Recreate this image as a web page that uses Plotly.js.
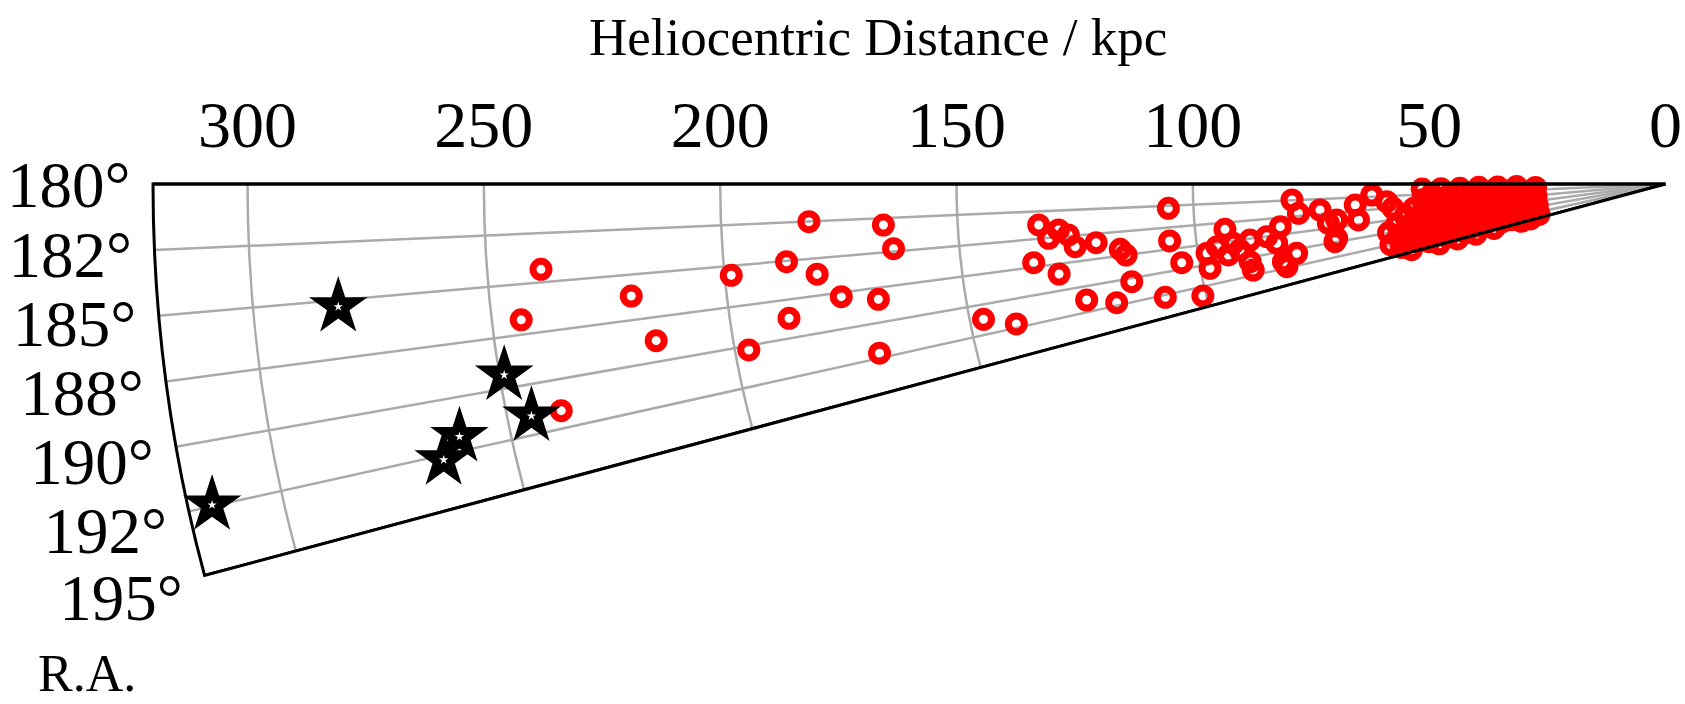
<!DOCTYPE html>
<html>
<head>
<meta charset="utf-8">
<script src="https://cdn.plot.ly/plotly-3.0.1.min.js"></script>
<style>html,body{margin:0;padding:0;background:#fff;}#chart{width:1685px;height:704px;}</style>
</head>
<body>
<div id="chart"></div>
<script>
// Heliocentric distance (kpc) and R.A. (deg) of the red-ring objects
const ringR = [238.6,243.8,220.1,216.1,238.5,198.6,197.1,186.7,181.4,180.5,187.6,176.0,165.7,163.9,168.3,170.1,
  132.9,131.0,128.8,126.8,125.6,121.1,116.2,115.1,134.7,129.7,114.8,124.9,118.8,147.1,140.5,105.3,105.6,103.7,108.5,100.7,
  93.7,98.1,95.8,92.3,88.7,85.1,82.0,89.4,89.1,82.5,79.4,98.0,93.7,79.1,77.9,73.3,71.8,71.0,65.8,65.4,62.2,59.1,83.2,82.0,91.1,70.0,70.5,57.9];
const ringRA = [184.34,186.77,186.18,188.82,191.60,185.58,190.26,185.05,182.52,186.07,188.71,187.78,183.00,184.79,188.33,192.15,
  183.74,185.03,184.33,184.88,186.06,185.88,186.83,187.50,187.10,188.44,190.37,191.33,192.20,191.22,192.16,182.80,186.55,189.24,192.76,193.60,
  185.87,188.59,187.95,187.81,187.68,187.53,186.32,190.59,191.79,191.49,190.64,190.49,189.22,182.45,184.56,184.30,186.65,189.90,183.87,186.68,182.14,183.63,188.67,192.32,188.82,186.25,189.38,185.03];

// dense nearby population (estimated)
const coreR = [27.5,27.5,27.5,27.5, 29.5,29.5,29.5,29.5, 31.5,31.5,31.5,31.5,31.5, 33.5,33.5,33.5,33.5,
  35.5,35.5,35.5,35.5,35.5, 37.5,37.5,37.5,37.5,37.5, 39.5,39.5,39.5,39.5,39.5,
  41.5,41.5,41.5,41.5,41.5,41.5, 43.5,43.5,43.5,43.5,43.5,43.5, 45.5,45.5,45.5,45.5,45.5,45.5,
  47.5,47.5,47.5,47.5,47.5,47.5, 49.5,49.5,49.5,49.5,49.5,49.5, 51.5,51.5,51.5,51.5,51.5,51.5,
  53.5,53.5,53.5,53.5, 55.5,55.5,55.5,55.5, 57.5,57.5,57.5, 59.5,59.5];
const coreRA = [181.5,185.5,189.5,193.5, 183.5,187.5,191.5,194.5, 181,184.5,188,191.5,194.5, 182.5,186,189.5,193,
  181,184,187,190,193, 182.5,185.5,188.5,191.5,194.5, 181,184,187,190,193,
  182.5,185,187.5,190,192.5,194.8, 181.2,183.7,186.2,188.7,191.2,193.7, 182.5,185,187.5,190,192.5,194.8,
  181.2,183.7,186.2,188.7,191.2,193.7, 182.5,185,187.5,190,192.5,194.8, 181.2,183.7,186.2,188.7,191.2,193.7,
  185.5,188,190.5,193, 187,189.5,192,194.5, 188.5,191,193.5, 190,192.5];

// star-marked objects
const starR = [282.0,249.0,244.9,260.7,265.0,314.9];
const starRA = [185.28,189.34,191.56,191.83,192.72,192.45];

// axes
const raTicks = [180,182.5,185,187.5,190,192.5,195];
const raLabels = ['180°','182°','185°','188°','190°','192°','195°'];
const distTicks = [0,50,100,150,200,250,300];
const distLabels = ['0','50','100','150','200','250','300'];
const distMax = 320;
const sectorRA = [180,195];

const FONT = 'Liberation Serif, "Times New Roman", serif';

const traces = [
  {type:'scatterpolar', subplot:'polar', mode:'markers',
   r: ringR.concat(coreR, starR), theta: ringRA.concat(coreRA, starRA),
   marker:{symbol:'circle-open', size:16, color:'red', line:{width:7}}, hoverinfo:'skip'},
  {type:'scatterpolar', subplot:'polar2', mode:'lines',
   r:[0, distMax], theta:[sectorRA[1], sectorRA[1]],
   line:{color:'black', width:3}, cliponaxis:false, hoverinfo:'skip'},
  {type:'scatterpolar', subplot:'polar2', mode:'markers', cliponaxis:false,
   r: starR, theta: starRA,
   marker:{symbol:'star', size:44, color:'black', line:{width:0}}, hoverinfo:'skip'},
  {type:'scatterpolar', subplot:'polar2', mode:'markers', cliponaxis:false,
   r: starR, theta: starRA,
   marker:{symbol:'star', size:7, color:'white', line:{width:0}}, hoverinfo:'skip'}
];

const dom = {x:[153/1685, 1665.5/1685], y:[1-575.5/704, 1-184/704]};

const layout = {
  width:1685, height:704, margin:{l:0,r:0,t:0,b:0},
  paper_bgcolor:'white', showlegend:false,
  font:{family:FONT, color:'black'},
  polar:{
    domain:dom, sector:sectorRA, bgcolor:'white',
    radialaxis:{range:[0,distMax], angle:180, side:'clockwise',
      tickmode:'array', tickvals:distTicks, ticktext:distLabels,
      tickfont:{size:66, family:FONT, color:'black'},
      ticks:'outside', ticklen:22, tickcolor:'rgba(0,0,0,0)',
      showline:true, linecolor:'black', linewidth:3,
      showgrid:true, gridcolor:'#aaaaaa', gridwidth:2.5, layer:'above traces'},
    angularaxis:{rotation:0, direction:'counterclockwise',
      tickmode:'array', tickvals:raTicks, ticktext:raLabels,
      tickfont:{size:65, family:FONT, color:'black'},
      ticks:'outside', ticklen:8, tickcolor:'rgba(0,0,0,0)',
      showline:true, linecolor:'black', linewidth:3,
      showgrid:true, gridcolor:'#aaaaaa', gridwidth:2.5, layer:'above traces'}
  },
  polar2:{
    domain:dom, sector:sectorRA, bgcolor:'rgba(0,0,0,0)',
    radialaxis:{range:[0,distMax], visible:false, showgrid:false, showline:false, showticklabels:false},
    angularaxis:{rotation:0, direction:'counterclockwise', visible:false, showgrid:false, showline:false, showticklabels:false}
  },
  annotations:[
    {text:'Heliocentric Distance / kpc', xref:'paper', yref:'paper', x:877.5/1685, y:1-37/704,
     xanchor:'center', yanchor:'middle', showarrow:false, font:{size:53, family:FONT, color:'black'}},
    {text:'R.A.', xref:'paper', yref:'paper', x:86.5/1685, y:0,
     xanchor:'center', yanchor:'bottom', showarrow:false, font:{size:52, family:FONT, color:'black'}}
  ]
};

Plotly.newPlot('chart', traces, layout, {staticPlot:true, displayModeBar:false});
</script>
</body>
</html>
